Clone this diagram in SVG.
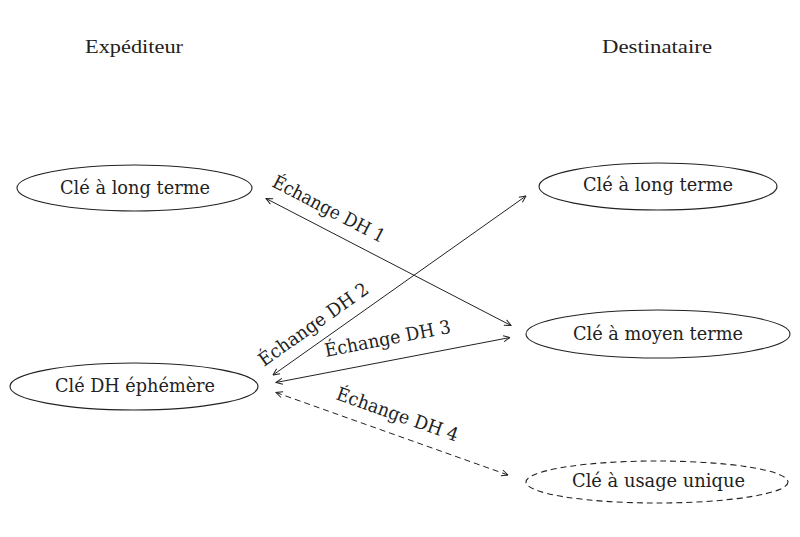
<svg xmlns="http://www.w3.org/2000/svg" width="800" height="537" viewBox="0 0 800 537">
<defs>
<style>
.t{font-family:'DejaVu Serif',serif;font-size:18.5px;fill:#222;}
.h{font-family:'Liberation Serif',serif;font-size:19px;fill:#222;}
.n{fill:none;stroke:#222;stroke-width:1.1;}
.e{fill:none;stroke:#222;stroke-width:1;}
.d{stroke-dasharray:6,4;}
</style>
<marker id="ah" viewBox="0 0 8 8" refX="7.5" refY="4" markerWidth="8" markerHeight="8" markerUnits="userSpaceOnUse" orient="auto-start-reverse">
<path d="M1,1 L7.5,4 L1,7" fill="none" stroke="#222" stroke-width="1"/>
</marker>
</defs>
<rect width="800" height="537" fill="#fff"/>
<text class="h" x="85" y="53" textLength="98" lengthAdjust="spacingAndGlyphs">Expéditeur</text>
<text class="h" x="602" y="53" textLength="110" lengthAdjust="spacingAndGlyphs">Destinataire</text>
<g id="s_long">
<ellipse class="n" cx="134.5" cy="188" rx="117.5" ry="23"/>
<text class="t" x="60" y="194" textLength="150" lengthAdjust="spacingAndGlyphs">Clé à long terme</text>
</g>
<g id="s_eph">
<ellipse class="n" cx="134" cy="386.5" rx="124" ry="23.5"/>
<text class="t" x="55" y="392" textLength="160" lengthAdjust="spacingAndGlyphs">Clé DH éphémère</text>
</g>
<g id="d_long">
<ellipse class="n" cx="658" cy="186.5" rx="119" ry="23.5"/>
<text class="t" x="583" y="191" textLength="150" lengthAdjust="spacingAndGlyphs">Clé à long terme</text>
</g>
<g id="d_moyen">
<ellipse class="n" cx="658" cy="334" rx="132" ry="24"/>
<text class="t" x="573" y="339.5" textLength="170" lengthAdjust="spacingAndGlyphs">Clé à moyen terme</text>
</g>
<g id="d_unique">
<ellipse class="n d" cx="657" cy="482" rx="131" ry="21"/>
<text class="t" x="572" y="487" textLength="173" lengthAdjust="spacingAndGlyphs">Clé à usage unique</text>
</g>
<g id="connectors">
<line class="e" x1="266" y1="198.5" x2="511" y2="325.5" marker-start="url(#ah)" marker-end="url(#ah)"/>
<line class="e" x1="273" y1="375" x2="526" y2="196" marker-start="url(#ah)" marker-end="url(#ah)"/>
<line class="e" x1="276" y1="382.5" x2="510" y2="337.5" marker-start="url(#ah)" marker-end="url(#ah)"/>
<line class="e d" x1="276" y1="392.5" x2="508" y2="475" marker-start="url(#ah)" marker-end="url(#ah)"/>
<text class="t" transform="translate(271,186) rotate(27.5)" textLength="124" lengthAdjust="spacingAndGlyphs">Échange DH 1</text>
<text class="t" transform="translate(264,367) rotate(-35.3)" textLength="130" lengthAdjust="spacingAndGlyphs">Échange DH 2</text>
<text class="t" transform="translate(326,357) rotate(-11)" textLength="128" lengthAdjust="spacingAndGlyphs">Échange DH 3</text>
<text class="t" transform="translate(335,399) rotate(19.5)" textLength="128" lengthAdjust="spacingAndGlyphs">Échange DH 4</text>
</g>
</svg>
